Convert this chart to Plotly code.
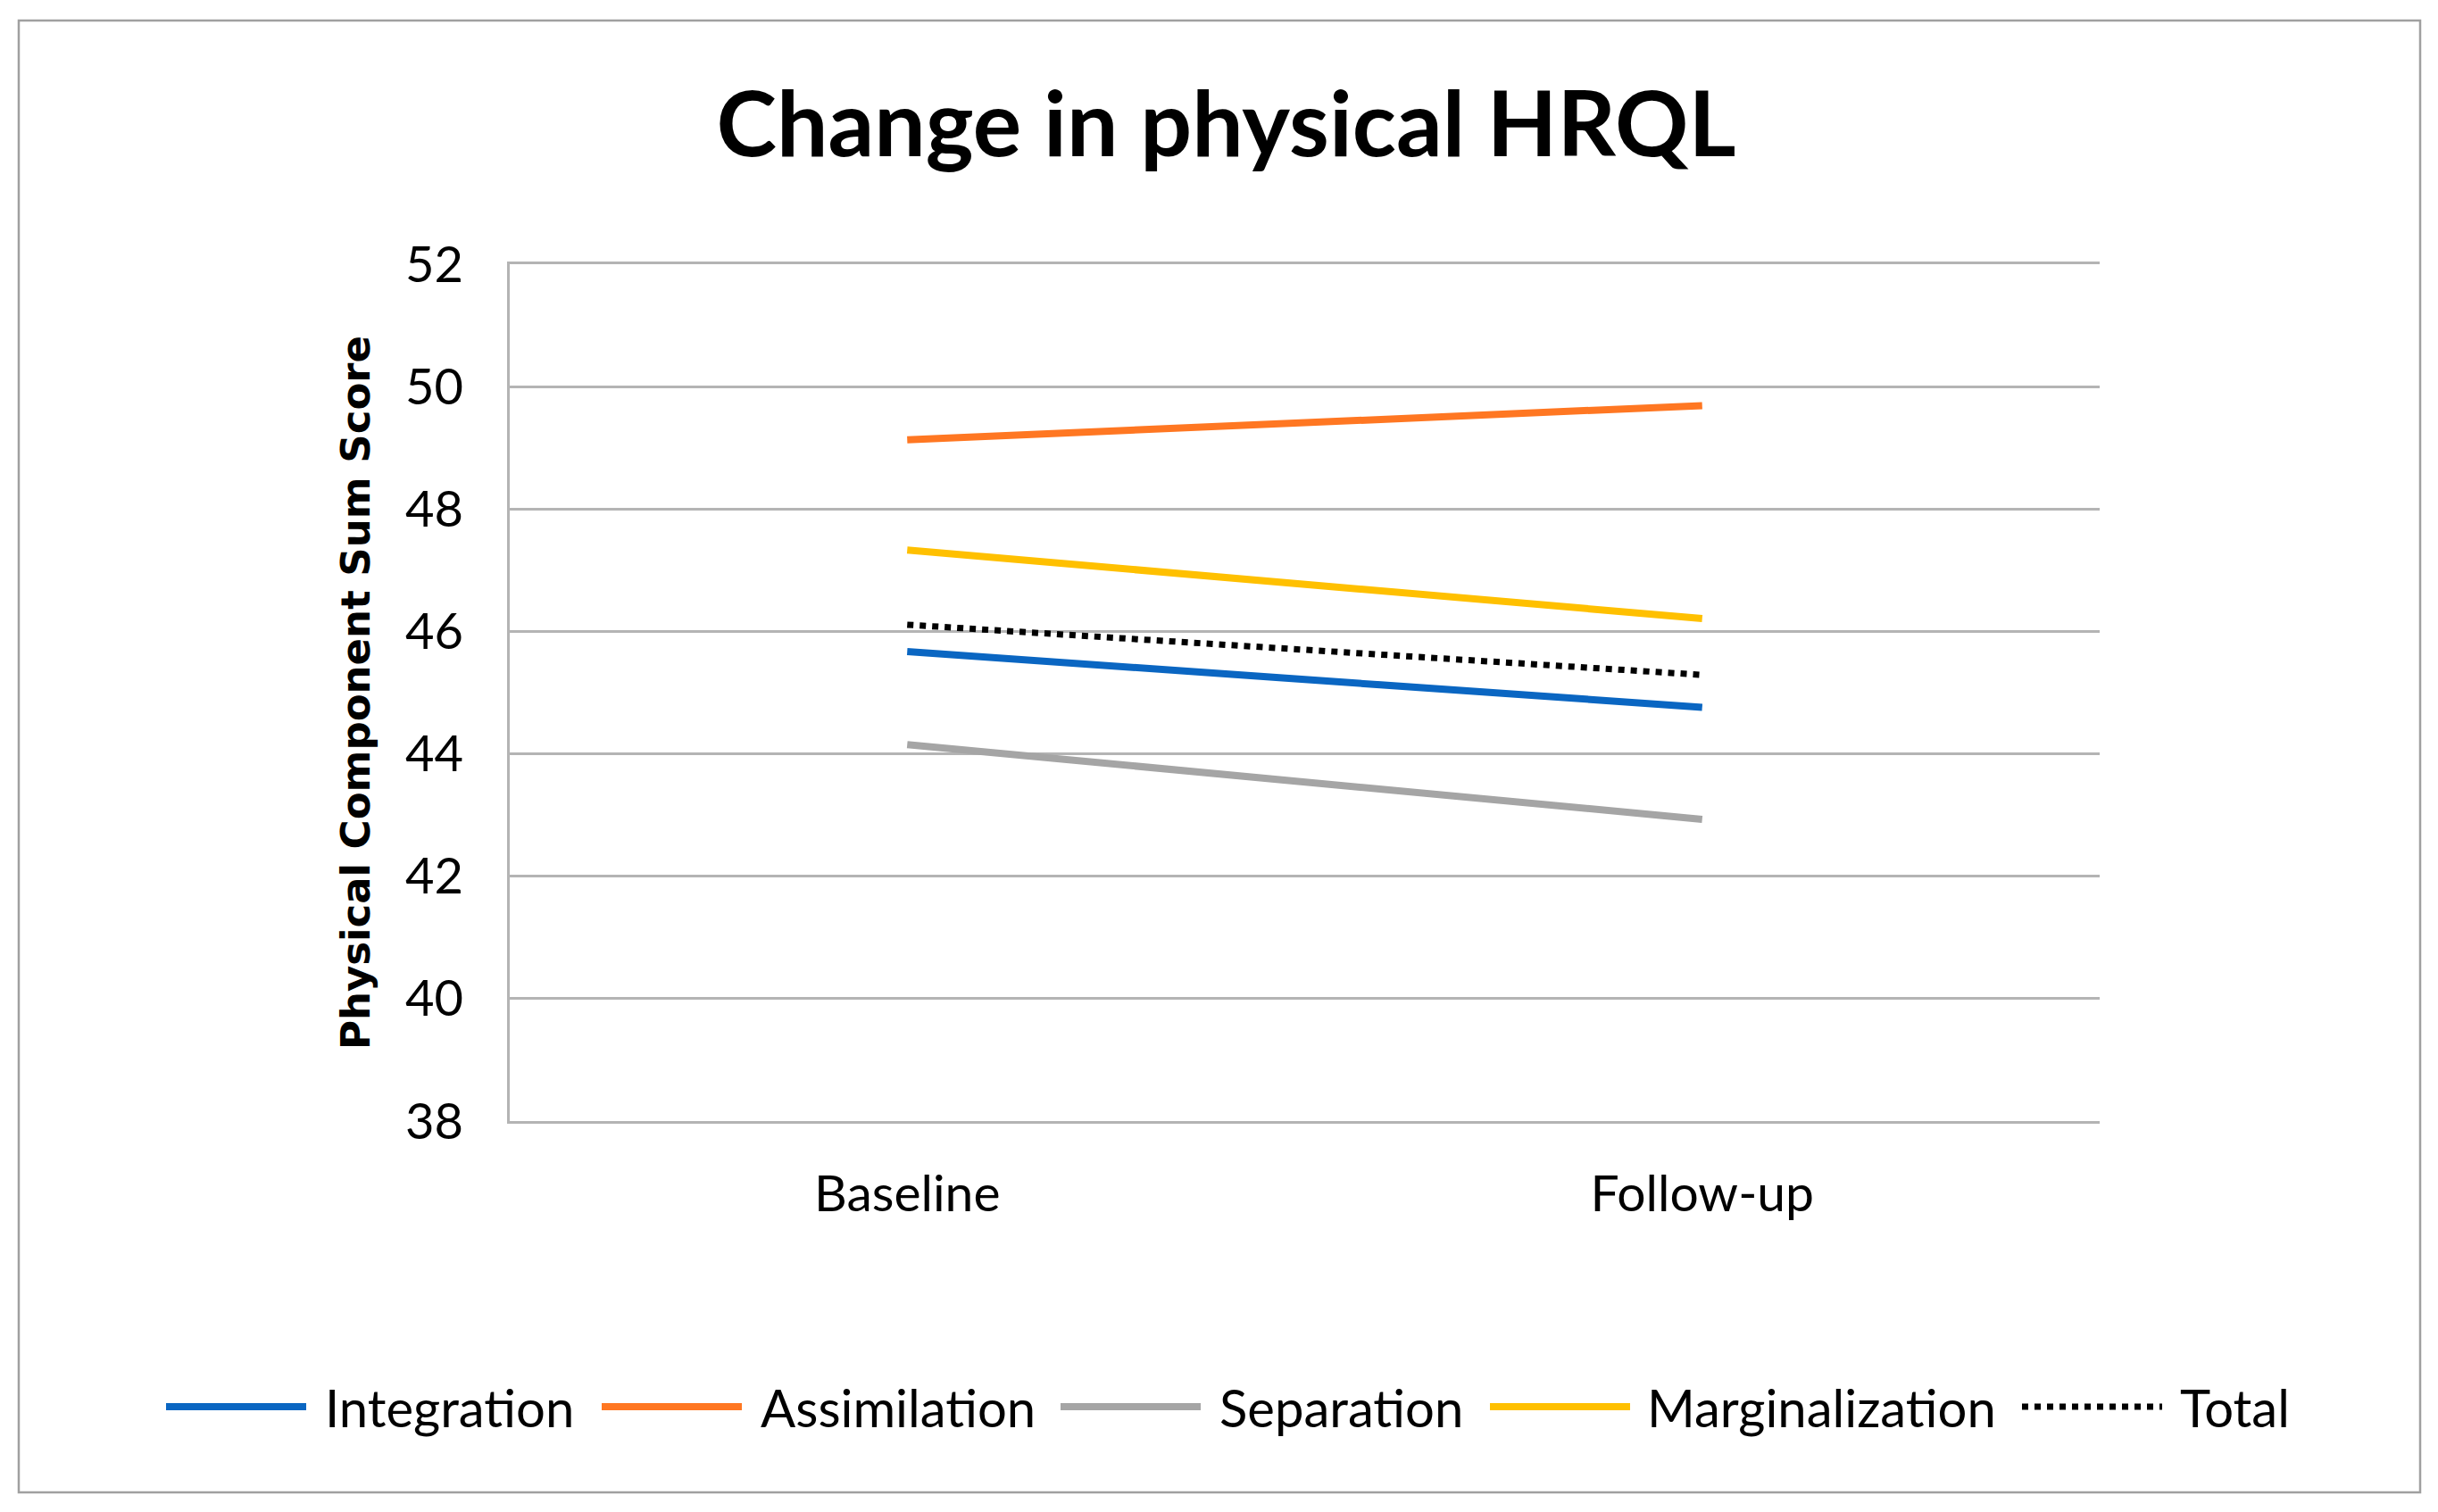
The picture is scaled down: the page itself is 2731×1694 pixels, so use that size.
import plotly.graph_objects as go

categories = ["Baseline", "Follow-up"]
series_names = ["Integration", "Assimilation", "Separation", "Marginalization", "Total"]
integration = [45.67, 44.76]
assimilation = [49.13, 49.69]
separation = [44.15, 42.93]
marginalization = [47.33, 46.21]
total = [46.11, 45.29]
y_ticks = [38, 40, 42, 44, 46, 48, 50, 52]

colors = ["#0A66C2", "#FF7722", "#A5A5A5", "#FFC000", "#000000"]
dashes = ["solid", "solid", "solid", "solid", "dot"]
values = [integration, assimilation, separation, marginalization, total]

FONT = "Lato"

fig = go.Figure()
for name, vals, c, d in zip(series_names, values, colors, dashes):
    fig.add_trace(go.Scatter(
        x=categories, y=vals, mode="lines", name=name, showlegend=False,
        line=dict(color=c, width=8 if d == "solid" else 7, dash=d),
    ))

W, H = 2731, 1694
L, R, T, B = 563, 2344, 288, 1248
pw, ph = R - L, B - T


def px(X):
    return (X - L) / pw


def py(Y):
    return (B - Y) / ph


fig.update_layout(
    width=W, height=H,
    margin=dict(l=L, r=W - R, t=T, b=H - B, autoexpand=False),
    paper_bgcolor="white", plot_bgcolor="white",
    font=dict(family=FONT, color="#000000", size=50),
    title=dict(text="<b>Change in physical HRQL</b>", x=0.5, xref="container",
               xanchor="center", y=1 - 131 / H, yref="container", yanchor="middle",
               font=dict(family=FONT, size=102, color="#000000")),
    showlegend=False,
    xaxis=dict(type="category", range=[-0.5, 1.5], showgrid=False,
               showline=True, mirror=True, linecolor="#B4B4B4", linewidth=2.5,
               zeroline=False, ticks="",
               ticklabelstandoff=30,
               tickfont=dict(family=FONT, size=57, color="#000000")),
    yaxis=dict(range=[38, 52], tickvals=y_ticks, showgrid=True,
               gridcolor="#B4B4B4", gridwidth=2.5, showline=True,
               linecolor="#B4B4B4", linewidth=2.5, zeroline=False, ticks="",
               ticklabelstandoff=38,
               tickfont=dict(family=FONT, size=56, color="#000000"),
               title=dict(text="<b>Physical Component Sum Score</b>",
                          font=dict(family="DejaVu Sans", size=45, color="#000000"),
                          standoff=26)),
)

# outer frame of chart area
fig.add_shape(type="rect", xref="paper", yref="paper",
              x0=px(13), x1=px(2703), y0=py(1664), y1=py(15),
              line=dict(color="#A0A0A0", width=2.5), fillcolor="rgba(0,0,0,0)",
              layer="below")

# legend (Excel-style long line swatches)
leg_line_x = [178, 666, 1180, 1661, 2257]
leg_text_x = [354, 842, 1356, 1835, 2432]
leg_y = 1568
sw_len = 157
for name, c, d, lx, tx in zip(series_names, colors, dashes, leg_line_x, leg_text_x):
    fig.add_shape(type="line", xref="paper", yref="paper",
                  x0=px(lx), x1=px(lx + sw_len), y0=py(leg_y), y1=py(leg_y),
                  line=dict(color=c, width=8 if d == "solid" else 7, dash=d))
    fig.add_annotation(text=name, xref="paper", yref="paper",
                       x=px(tx), y=py(leg_y), xanchor="left", yanchor="middle",
                       showarrow=False,
                       font=dict(family=FONT, size=58, color="#000000"))

fig.write_html("out.html")
